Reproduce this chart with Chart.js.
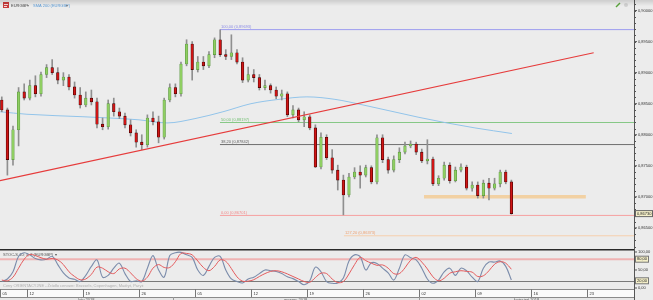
<!DOCTYPE html>
<html><head><meta charset="utf-8">
<script src="https://cdn.jsdelivr.net/npm/chart.js@4.4.1/dist/chart.umd.min.js"></script>
<style>
html,body{margin:0;padding:0;background:#ececec;width:653px;height:300px;overflow:hidden;}
canvas{position:absolute;left:0;}
</style></head><body>
<canvas id="main" width="653" height="249" style="top:0"></canvas>
<canvas id="stoch" width="653" height="51" style="top:249px"></canvas>
<script>
// ---- data ----
const candleDay = [-2.25,-1.75,-1.25,-0.75,-0.25,0.25,0.75,1.25,1.75,2.25,2.75,3.25,3.75,4.25,4.75,5.25,5.75,6.25,6.75,7.25,7.75,8.25,8.75,9.25,9.75,10.25,10.75,11.25,11.75,12.25,12.75,13.25,13.75,14.25,14.75,15.25,15.75,16.25,16.75,17.25,17.75,18.25,18.75,19.25,19.75,20.25,20.75,21.25,21.75,22.25,22.75,23.25,23.75,24.25,24.75,25.25,25.75,26.25,26.75,27.25,27.75,28.25,28.75,29.25,29.75,30.25,30.75,31.25,31.75,32.25,32.75,33.25,33.75,34.25,34.75,35.25,35.75,36.25,36.75,37.25,37.75,38.25,38.75,39.25,39.75,40.25,40.75,41.25,41.75,42.25,42.75,43.25];
const openP = [0.8856,0.8840,0.8760,0.8808,0.8869,0.8859,0.8879,0.8866,0.8897,0.8908,
0.8900,0.8888,0.8893,0.8877,0.8864,0.8848,0.8859,0.8853,0.8817,0.8813,
0.8850,0.8837,0.8830,0.8816,0.8803,0.8788,0.8784,0.8827,0.8821,0.8796,
0.8856,0.8876,0.8866,0.8914,0.8946,0.8905,0.8917,0.8911,0.8929,0.8953,
0.8929,0.8926,0.8932,0.8917,0.8888,0.8897,0.8892,0.8876,0.8879,0.8872,
0.8862,0.8866,0.8832,0.8840,0.8824,0.8829,0.8811,0.8748,0.8796,0.8763,
0.8743,0.8727,0.8703,0.8732,0.8740,0.8735,0.8747,0.8724,0.8795,0.8760,
0.8743,0.8760,0.8772,0.8782,0.8785,0.8772,0.8758,0.8761,0.8721,0.8730,
0.8751,0.8726,0.8743,0.8748,0.8714,0.8719,0.8702,0.8722,0.8714,0.8721,
0.8740,0.8724];
const highP = [0.8861,0.8843,0.8814,0.8876,0.8882,0.8888,0.8895,0.8901,0.8913,0.8921,
0.8908,0.8900,0.8897,0.8885,0.8876,0.8869,0.8872,0.8859,0.8827,0.8856,
0.8859,0.8843,0.8835,0.8824,0.8808,0.8800,0.8832,0.8837,0.8830,0.8859,
0.8882,0.8882,0.8917,0.8953,0.8950,0.8926,0.8926,0.8934,0.8956,0.8969,
0.8937,0.8961,0.8937,0.8924,0.8909,0.8905,0.8897,0.8888,0.8882,0.8877,
0.8872,0.8869,0.8847,0.8843,0.8837,0.8832,0.8816,0.8803,0.8800,0.8776,
0.8751,0.8735,0.8738,0.8747,0.8750,0.8751,0.8750,0.8800,0.8800,0.8764,
0.8766,0.8779,0.8788,0.8790,0.8788,0.8777,0.8792,0.8764,0.8734,0.8756,
0.8755,0.8748,0.8753,0.8751,0.8724,0.8724,0.8727,0.8730,0.8730,0.8743,
0.8743,0.8727];
const lowP = [0.8837,0.8735,0.8751,0.8782,0.8856,0.8856,0.8861,0.8862,0.8892,0.8897,
0.8882,0.8879,0.8872,0.8859,0.8843,0.8845,0.8848,0.8811,0.8808,0.8809,
0.8830,0.8826,0.8811,0.8798,0.8780,0.8776,0.8780,0.8816,0.8787,0.8793,
0.8853,0.8861,0.8862,0.8911,0.8888,0.8901,0.8905,0.8908,0.8924,0.8926,
0.8921,0.8921,0.8914,0.8884,0.8885,0.8885,0.8872,0.8872,0.8867,0.8858,
0.8856,0.8829,0.8827,0.8821,0.8813,0.8808,0.8747,0.8745,0.8760,0.8738,
0.8711,0.8671,0.8700,0.8729,0.8714,0.8732,0.8721,0.8721,0.8755,0.8738,
0.8740,0.8755,0.8769,0.8779,0.8768,0.8755,0.8753,0.8718,0.8718,0.8727,
0.8722,0.8724,0.8740,0.8711,0.8709,0.8698,0.8698,0.8695,0.8711,0.8716,
0.8721,0.8672];
const closeP = [0.8840,0.8760,0.8808,0.8869,0.8859,0.8879,0.8866,0.8897,0.8908,0.8900,
0.8888,0.8893,0.8877,0.8864,0.8848,0.8859,0.8853,0.8817,0.8813,0.8850,
0.8837,0.8830,0.8816,0.8803,0.8788,0.8784,0.8827,0.8821,0.8796,0.8856,
0.8876,0.8866,0.8914,0.8946,0.8905,0.8917,0.8911,0.8929,0.8953,0.8929,
0.8926,0.8932,0.8917,0.8888,0.8897,0.8892,0.8876,0.8879,0.8872,0.8862,
0.8866,0.8832,0.8840,0.8824,0.8829,0.8811,0.8748,0.8796,0.8763,0.8743,
0.8727,0.8703,0.8732,0.8740,0.8735,0.8747,0.8724,0.8795,0.8760,0.8743,
0.8760,0.8772,0.8782,0.8785,0.8772,0.8758,0.8761,0.8721,0.8730,0.8751,
0.8726,0.8743,0.8748,0.8714,0.8719,0.8702,0.8722,0.8714,0.8721,0.8740,
0.8724,0.8673];
const smaDay   = [-2.4, 0, 5, 10, 12.5, 15, 17.5, 20, 22.5, 25, 27.5, 30, 32.5, 35, 37.5, 40, 43.3];
const smaValue = [0.8837,0.8833,0.8829,0.8824,0.8819,0.8826,0.8837,0.8850,0.8857,0.8861,0.8857,0.8848,0.8838,0.8828,0.8819,0.8811,0.8802];
const trendDay = [-2.41, 50.6];
const trendValue = [0.8726, 0.8932];
const fibLevels = ['100,00','50,00','38,20','0,00'];
const fibValues = [0.89693, 0.88197, 0.87842, 0.86701];
const fibStartDay = 17.23;
const extLevel = '127,20';
const extValue = 0.86373;
const extStartDay = 28.3;
const zoneDays = [35.45, 49.9];
const zoneValue = 0.8700;
const stochK = [18,25,45,88,98,92,82,78,80,88,65,42,28,24,18,35,60,78,30,35,55,69,40,18,20,18,55,90,50,30,90,98,99,92,85,50,35,60,85,88,50,25,18,14,25,30,40,50,48,46,40,31,26,18,9,20,58,45,18,13,14,28,75,92,87,50,70,68,55,42,22,55,92,84,78,55,25,13,22,45,55,35,55,48,30,18,55,72,72,75,60,22];
const stochD = [22,20,30,55,80,93,90,84,80,82,78,65,45,32,23,25,38,58,55,45,40,53,55,42,26,19,30,55,65,57,57,73,96,96,92,75,57,48,60,78,74,54,31,19,19,23,32,40,46,48,45,39,32,25,18,16,29,41,40,25,15,18,39,65,85,76,69,63,64,55,40,40,56,77,85,72,53,31,20,27,41,45,48,46,44,32,34,48,66,73,69,52];
const priceTicks = [0.865,0.870,0.875,0.880,0.885,0.890,0.895,0.900];
const stochTicks = [100,50,0];
const stochLevels = [80,20];
const dateTickDays = [-5,0,5,10,15,20,25,30,35,40,45,50];
const dateTickLabels = ['05','12','19','26','05','12','19','26','02','09','16','23'];
const monthStartDays = [-30,13,35];
const monthLabels = ['luty 2018','marzec 2018','kwiecień 2018'];

const xMin = -2.41, xMax = 54.2;
const FONT = '4px "Liberation Sans", Arial, sans-serif';
const fmt = (v,d)=>v.toFixed(d).replace('.',',');

const fibColors = ['#8c8ce6','#74c074','#606060','#f28888'];
const fibLine = ['#9d9df0','#86c886','#707070','#f6a0a0'];

const ds = [];
fibValues.forEach((v,i)=>ds.push({type:'line',data:[{x:fibStartDay,y:v},{x:xMax,y:v}],borderColor:fibLine[i],borderWidth:1,pointRadius:0,order:10}));
ds.push({type:'line',data:[{x:extStartDay,y:extValue},{x:xMax,y:extValue}],borderColor:'#f6cfae',borderWidth:1,pointRadius:0,order:10});
ds.push({type:'line',data:zoneDays.map(d=>({x:d,y:zoneValue})),borderColor:'rgba(243,205,150,0.85)',borderWidth:3.5,pointRadius:0,order:9});
ds.push({type:'line',data:smaDay.map((d,i)=>({x:d,y:smaValue[i]})),borderColor:'#92c4ea',borderWidth:1,pointRadius:0,cubicInterpolationMode:'monotone',order:8});
ds.push({type:'bar',data:candleDay.map((d,i)=>({x:d,y:[lowP[i],highP[i]]})),backgroundColor:'#8f8f8f',barThickness:1,grouped:false,order:6});
ds.push({type:'bar',data:candleDay.map((d,i)=>({x:d,y:[openP[i],closeP[i]]})),
  backgroundColor:closeP.map((c,i)=>c>=openP[i]?'#8fce62':'#d01515'),
  borderColor:closeP.map((c,i)=>c>=openP[i]?'#5a9540':'#3a0000'),
  borderWidth:0.6,borderSkipped:false,barThickness:2.6,minBarLength:1,grouped:false,order:5});
ds.push({type:'line',data:trendDay.map((d,i)=>({x:d,y:trendValue[i]})),borderColor:'#e63b3b',borderWidth:1.2,pointRadius:0,order:1});

const mainPlugin = {
  id:'mainDeco',
  afterDraw(chart){
    const c = chart.ctx, a = chart.chartArea, ys = chart.scales.y, xs = chart.scales.x;
    c.save();
    c.font = FONT; c.textBaseline = 'middle';
    fibValues.forEach((v,i)=>{
      c.fillStyle = fibColors[i];
      c.fillText(fibLevels[i]+' ('+fmt(v,5)+')', xs.getPixelForValue(fibStartDay)+1, ys.getPixelForValue(v)-3);
    });
    c.fillStyle = '#eea070';
    c.fillText(extLevel+' ('+fmt(extValue,5)+')', xs.getPixelForValue(extStartDay)+1, ys.getPixelForValue(extValue)-3);
    const ax = a.right;
    c.strokeStyle = '#555'; c.lineWidth = 1;
    c.beginPath(); c.moveTo(ax+0.5,0); c.lineTo(ax+0.5,a.bottom); c.stroke();
    for (let k=861; k<=902; k++){
      const v = k/1000, y = Math.round(ys.getPixelForValue(v))+0.5;
      if (y<0||y>a.bottom) continue;
      c.beginPath(); c.moveTo(ax,y); c.lineTo(ax+2,y); c.stroke();
    }
    c.fillStyle = '#333';
    priceTicks.forEach(v=>{
      const y = ys.getPixelForValue(v);
      c.beginPath(); c.moveTo(ax,y); c.lineTo(ax+3,y); c.stroke();
      c.fillText(fmt(v,5), ax+4, y);
    });
    const last = closeP[closeP.length-1], ly = ys.getPixelForValue(last);
    c.fillStyle = '#f4efc9'; c.strokeStyle = '#666';
    c.fillRect(ax+1.5, ly-3, 17, 6); c.strokeRect(ax+1.5, ly-3, 17, 6);
    c.fillStyle = '#222'; c.fillText(fmt(last,5), ax+3, ly);
    c.fillStyle = '#c83c3c'; c.fillRect(3,2,6,6);
    c.fillStyle = '#fff'; c.fillRect(4,4,4,0.8); c.fillRect(4,6,3,0.8);
    c.fillStyle = '#444'; c.fillText('EURGBP', 11, 5.5);
    c.fillStyle = '#777'; c.fillText('▾', 27, 5.5);
    c.fillStyle = '#5a9ad6'; c.fillText('SMA 200 (EURGBP)', 33, 5.5);
    c.fillStyle = '#777'; c.fillText('▾', 66, 5.5);
    c.strokeStyle = '#5aa43c'; c.lineWidth = 1.4;
    c.beginPath(); c.moveTo(616,7); c.lineTo(620,3); c.stroke();
    c.fillStyle = '#d0d0d0'; c.beginPath(); c.arc(626,5,2,0,Math.PI*2); c.fill();
    const g = c.createLinearGradient(0,0,0,6);
    g.addColorStop(0,'rgba(0,0,0,0.13)'); g.addColorStop(1,'rgba(0,0,0,0)');
    c.fillStyle = g; c.fillRect(0,0,chart.width,6);
    c.restore();
  }
};

new Chart(document.getElementById('main'),{
  type:'bar',
  data:{datasets:ds},
  options:{
    responsive:false, animation:false, events:[],
    layout:{padding:{left:0,right:19,top:0,bottom:0}},
    plugins:{legend:{display:false},tooltip:{enabled:false}},
    scales:{
      x:{type:'linear',min:xMin,max:xMax,display:false,offset:false},
      y:{type:'linear',min:0.8616,max:0.9017,display:false}
    }
  },
  plugins:[mainPlugin]
});

const stochPlugin = {
  id:'stochDeco',
  beforeDatasetsDraw(chart){
    const c = chart.ctx, a = chart.chartArea, ys = chart.scales.y;
    c.save();
    let y = ys.getPixelForValue(stochLevels[0]);
    c.strokeStyle = 'rgba(242,160,160,0.75)'; c.lineWidth = 2;
    c.beginPath(); c.moveTo(a.left,y); c.lineTo(a.right,y); c.stroke();
    y = Math.round(ys.getPixelForValue(stochLevels[1]))+0.5;
    c.strokeStyle = '#7a7a7a'; c.lineWidth = 1;
    c.beginPath(); c.moveTo(a.left,y); c.lineTo(a.right,y); c.stroke();
    c.font = FONT; c.textBaseline='middle';
    c.fillStyle = '#555'; c.fillText('STOC-S 10; 3; 3 (EURGBP)  ▾', 3, 6);
    c.fillStyle = '#b0b0b0'; c.fillText('Ceny ORIENTACYJNE - Źródło cenowe: Brussels, Copenhagen, Madryt, Paryż', 3, a.bottom-3);
    c.restore();
  },
  afterDraw(chart){
    const c = chart.ctx, a = chart.chartArea, ys = chart.scales.y, xs = chart.scales.x;
    c.save();
    c.font = FONT; c.textBaseline='middle';
    c.strokeStyle = '#2a2a2a'; c.lineWidth = 1.4;
    c.beginPath(); c.moveTo(0,0.7); c.lineTo(a.right,0.7); c.stroke();
    const ax = a.right;
    c.strokeStyle = '#555'; c.lineWidth = 1;
    c.beginPath(); c.moveTo(ax+0.5,0); c.lineTo(ax+0.5,chart.height); c.stroke();
    c.fillStyle = '#333';
    stochTicks.forEach(v=>{ const y = ys.getPixelForValue(v);
      c.beginPath(); c.moveTo(ax,y); c.lineTo(ax+3,y); c.stroke();
      c.fillText(fmt(v,2), ax+4, y); });
    stochLevels.forEach(v=>{ const y = ys.getPixelForValue(v);
      c.fillStyle = '#f4efc9'; c.strokeStyle = '#777';
      c.fillRect(ax+1.5,y-3,13,6); c.strokeRect(ax+1.5,y-3,13,6);
      c.fillStyle = '#222'; c.fillText(fmt(v,2), ax+3, y); });
    const top = a.bottom, h1 = 8;
    c.fillStyle = '#fafafa'; c.fillRect(0,top,a.right,h1);
    c.fillStyle = '#e6e6e6'; c.fillRect(0,top+h1,a.right,chart.height-top-h1);
    c.strokeStyle = '#8a8a8a'; c.lineWidth = 1;
    c.beginPath(); c.moveTo(0,top+0.5); c.lineTo(a.right,top+0.5); c.moveTo(0,top+h1+0.5); c.lineTo(a.right,top+h1+0.5); c.stroke();
    c.fillStyle = '#333';
    dateTickDays.forEach((d,i)=>{
      const px = xs.getPixelForValue(d);
      if (px > a.right) return;
      const sx = Math.max(a.left, Math.round(px)) + 0.5;
      c.strokeStyle = '#777';
      c.beginPath(); c.moveTo(sx,top); c.lineTo(sx,top+h1); c.stroke();
      c.fillText(dateTickLabels[i], sx+2, top+4.5);
    });
    monthStartDays.forEach((d,i)=>{
      const x0 = Math.max(a.left, xs.getPixelForValue(d));
      const x1 = i+1<monthStartDays.length ? xs.getPixelForValue(monthStartDays[i+1]) : a.right;
      if (i>0){ c.strokeStyle='#999'; c.beginPath(); c.moveTo(Math.round(x0)+0.5,top+h1); c.lineTo(Math.round(x0)+0.5,chart.height); c.stroke(); }
      c.fillStyle = '#555'; c.textAlign = 'center';
      c.fillText(monthLabels[i], (x0+x1)/2, top+h1+2.5);
      c.textAlign = 'left';
    });
    c.restore();
  }
};

new Chart(document.getElementById('stoch'),{
  type:'line',
  data:{datasets:[
    {data:candleDay.map((d,i)=>({x:d,y:stochD[i]})),borderColor:'#e45a5c',borderWidth:1,pointRadius:0,tension:0.35},
    {data:candleDay.map((d,i)=>({x:d,y:stochK[i]})),borderColor:'#7b8cab',borderWidth:1.1,pointRadius:0,tension:0.35}
  ]},
  options:{
    responsive:false, animation:false, events:[],
    layout:{padding:{left:0,right:19,top:0,bottom:11}},
    plugins:{legend:{display:false},tooltip:{enabled:false}},
    scales:{
      x:{type:'linear',min:xMin,max:xMax,display:false},
      y:{type:'linear',min:-2.8,max:108.3,display:false}
    }
  },
  plugins:[stochPlugin]
});
</script>
</body></html>
